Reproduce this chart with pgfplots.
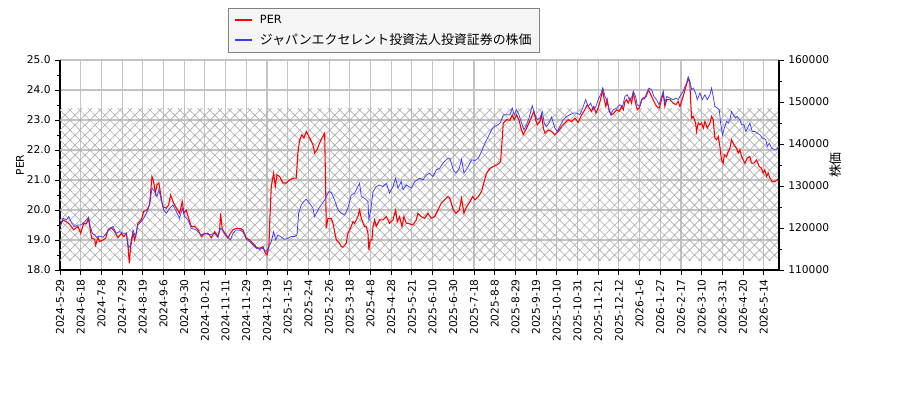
\documentclass[border=0pt]{standalone}
\usepackage{pgfplots}
\pgfplotsset{compat=1.18}
\usetikzlibrary{patterns.meta}
\usepackage{fontspec}
\setmainfont{DejaVu Sans}
\newfontfamily\cjk{Noto Sans CJK JP}

\definecolor{perred}{RGB}{255,0,0}
\definecolor{pxblue}{RGB}{60,60,255}
\definecolor{gridgray}{RGB}{195,195,195}

\pgfplotsset{
  common/.style={
    at={(45pt,97.5pt)}, anchor=south west,
    width=539.25pt, height=157.5pt, scale only axis,
    xmin=0, xmax=486.3,
    tick align=outside,
    major tick length=3.5pt, minor tick length=2pt,
    every tick/.style={black, line width=0.6pt},
    axis line style={line width=0.8pt},
    every tick label/.append style={font=\fontsize{8}{9.6}\selectfont},
  }
}

\begin{document}
\begin{tikzpicture}
\path[use as bounding box] (0,0) rectangle (675pt,300pt);

\begin{axis}[common,
  axis x line*=bottom, axis y line*=left,
  ymin=18, ymax=25,
  ytick={18,19,...,25}, minor y tick num=1,
  xtick={0,14,...,476},
  xticklabels={2024-5-29,2024-6-18,2024-7-8,2024-7-29,2024-8-19,2024-9-6,2024-9-30,2024-10-21,2024-11-11,2024-11-29,2024-12-19,2025-1-15,2025-2-4,2025-2-26,2025-3-18,2025-4-8,2025-4-28,2025-5-21,2025-6-10,2025-6-30,2025-7-18,2025-8-8,2025-8-29,2025-9-19,2025-10-10,2025-10-31,2025-11-21,2025-12-12,2026-1-6,2026-1-27,2026-2-17,2026-3-10,2026-3-31,2026-4-20,2026-5-14},
  xticklabel style={rotate=90, anchor=east},
  yticklabel style={/pgf/number format/.cd, fixed, fixed zerofill, precision=1, assume math mode=true},
  grid=major,
  major grid style={gridgray, line width=0.8pt},
  ylabel={PER},
  ylabel style={at={(axis description cs:-0.0556,0.5)}, anchor=center, font=\fontsize{8}{9.6}\selectfont},
]
% hatched band
\addplot[draw=none, pattern={Hatch[angle=45,distance=5.3pt,line width=0.5pt]}, pattern color=black!32]
  coordinates {(0,18.33) (486.3,18.33) (486.3,23.4) (0,23.4) (0,18.33)};

\addplot[perred, line width=0.8pt] coordinates {
(0,19.45) (2.0,19.67) (4.3,19.61) (5.9,19.55) (7.7,19.45) (9.2,19.34) (12.2,19.45)
(14.0,19.22) (16.0,19.56) (17.8,19.54) (19.2,19.72) (20.5,19.34) (21.4,19.06) (23.4,19.03)
(24.1,18.83) (25.7,19.09) (26.8,18.95) (29.1,19.00) (30.9,19.06) (32.5,19.34) (34.7,19.41)
(37.0,19.28) (39.2,19.08) (41.5,19.22) (43.1,19.11) (44.9,19.22) (46.0,18.78) (46.9,18.22)
(47.8,18.78) (49.4,19.22) (50.5,19.00) (51.6,19.22) (52.7,19.56) (55.0,19.67) (56.6,19.95)
(58.8,20.00) (60.6,20.17) (62.2,21.12) (63.3,20.95) (64.5,20.56) (65.6,20.84) (66.9,20.90)
(68.5,20.39) (69.6,20.11) (71.9,20.06) (73.5,20.17) (74.8,20.50) (76.4,20.28) (78.7,20.06)
(80.9,19.89) (82.7,20.28) (83.8,19.89) (85.4,20.00) (87.0,19.72) (88.8,19.45) (91.1,19.45)
(93.3,19.34) (95.6,19.11) (97.8,19.22) (100.1,19.22) (102.3,19.08) (104.6,19.28) (106.8,19.11)
(108.0,19.34) (108.6,19.89) (109.8,19.34) (111.3,19.22) (113.6,19.06) (115.2,19.22) (117.0,19.34)
(119.2,19.39) (121.5,19.39) (123.7,19.34) (126.0,19.06) (128.3,19.00) (130.5,18.89) (132.8,18.76)
(135.0,18.72) (137.3,18.78) (138.4,18.61) (140.0,18.50) (141.3,18.78) (142.0,19.78) (142.9,20.78)
(144.5,21.23) (145.6,20.78) (146.7,21.17) (148.5,21.12) (150.8,20.90) (153.0,20.90) (155.3,21.00)
(158.0,21.06) (159.8,21.06) (160.9,21.90) (162.1,22.34) (163.6,22.51) (165.0,22.40) (166.6,22.62)
(167.7,22.51) (169.5,22.34) (171.1,22.17) (172.2,21.90) (173.8,22.01) (175.6,22.23) (177.2,22.40)
(179.0,22.56) (179.6,21.00) (180.1,19.39) (181.2,19.72) (183.5,19.72) (184.6,19.56) (186.9,19.00)
(189.1,18.89) (190.2,18.78) (191.4,18.76) (193.6,18.89) (194.7,19.22) (197.0,19.45) (198.1,19.61)
(199.3,19.56) (201.5,19.78) (202.6,20.00) (203.8,19.72) (206.0,19.45) (207.1,19.45) (208.3,19.22)
(208.9,18.67) (209.8,19.00) (211.0,19.00) (211.7,19.45) (212.8,19.67) (213.9,19.45) (216.2,19.67)
(218.4,19.67) (220.7,19.78) (222.9,19.56) (225.2,19.67) (227.0,20.00) (228.1,19.61) (229.7,19.78)
(231.3,19.45) (232.6,19.78) (234.2,19.56) (236.4,19.54) (238.7,19.50) (241.0,19.67) (242.1,19.89)
(244.3,19.78) (246.6,19.72) (248.9,19.89) (251.1,19.72) (253.4,19.78) (255.6,20.00) (257.9,20.23)
(260.1,20.34) (262.4,20.45) (263.7,20.39) (266.0,20.00) (267.8,19.89) (270.1,20.00) (271.6,20.39)
(273.2,19.89) (275.0,20.11) (277.3,20.28) (279.1,20.45) (280.7,20.34) (282.9,20.45) (285.2,20.62)
(286.3,20.84) (288.5,21.23) (290.8,21.39) (293.0,21.45) (295.3,21.50) (297.1,21.56) (298.0,21.62)
(298.9,22.23) (299.8,22.90) (302.1,23.01) (304.3,22.99) (305.9,23.17) (307.2,23.01) (308.8,23.17)
(310.4,23.01) (311.8,22.73) (313.3,22.51) (315.6,22.73) (317.2,22.90) (319.0,23.12) (320.5,23.29)
(321.7,23.01) (322.8,22.84) (324.6,22.95) (325.7,23.17) (326.9,22.73) (328.0,22.56) (330.2,22.67)
(332.5,22.62) (334.7,22.51) (337.0,22.62) (339.3,22.79) (341.5,22.90) (343.8,23.01) (346.0,22.95)
(348.3,23.06) (350.5,22.92) (352.8,23.17) (355.0,23.34) (356.6,23.51) (358.0,23.40) (359.5,23.29)
(361.1,23.45) (362.5,23.23) (364.0,23.40) (365.6,23.68) (367.0,24.01) (368.1,23.68) (369.2,23.45)
(370.1,23.68) (371.5,23.29) (373.1,23.17) (374.6,23.23) (376.4,23.34) (378.2,23.29) (379.8,23.45)
(381.0,23.34) (382.1,23.62) (383.2,23.68) (384.3,23.56) (385.5,23.73) (386.6,23.56) (387.7,23.90)
(388.8,23.68) (390.4,23.34) (391.8,23.40) (393.4,23.68) (395.6,23.73) (397.9,24.01) (400.1,23.79)
(401.7,23.62) (403.5,23.45) (405.3,23.40) (406.9,23.68) (408.0,23.90) (409.1,23.45) (410.3,23.68)
(412.5,23.68) (414.8,23.56) (416.6,23.51) (418.1,23.62) (419.3,23.45) (421.5,23.79) (422.7,24.01)
(423.8,24.18) (424.9,24.40) (426.0,24.23) (426.5,23.68) (427.2,23.06) (428.3,23.12) (429.9,22.90)
(430.5,22.62) (431.7,22.90) (432.8,22.84) (433.9,22.90) (435.1,22.73) (436.2,22.95) (437.8,22.73)
(439.6,22.90) (440.7,23.12) (441.8,23.01) (442.9,22.40) (444.1,22.34) (445.2,22.45) (446.3,22.12)
(447.4,21.67) (448.6,21.56) (449.3,21.84) (450.8,21.78) (452.0,21.95) (453.1,22.06) (454.2,22.34)
(455.3,22.23) (456.5,22.12) (457.6,22.06) (458.7,21.90) (459.8,22.01) (461.0,21.78) (463.2,21.56)
(464.8,21.73) (466.6,21.78) (467.7,21.56) (469.3,21.56) (471.1,21.67) (472.9,21.45) (474.5,21.39)
(475.6,21.23) (476.7,21.34) (477.9,21.12) (479.0,21.23) (480.1,21.06) (481.7,20.95) (483.5,20.95)
(485.1,21.00) (486.3,21.06)
};
\end{axis}

\begin{axis}[common,
  axis y line*=right, axis x line=none,
  ymin=110000, ymax=160000,
  ytick={110000,120000,...,160000}, minor y tick num=1,
  scaled y ticks=false,
  yticklabel style={/pgf/number format/.cd, fixed, precision=0, 1000 sep={}, assume math mode=true},
  ylabel={{\cjk 株価}},
  ylabel style={at={(axis description cs:1.078,0.5)}, anchor=center, rotate=0, font=\fontsize{9.7}{11}\selectfont},
  legend cell align=left,
  legend image code/.code={\draw[#1, line width=1.5pt] (0pt,0pt) -- (12.75pt,0pt); \path (16.5pt,0pt);},
  legend style={at={(axis description cs:0.2337,1.2476)}, anchor=north west,
    fill=black!4, draw=black!50, line width=0.7pt,
    font=\fontsize{8.5}{10}\selectfont, row sep=2pt,
    inner xsep=4pt, inner ysep=3pt},
]
\addlegendimage{perred}
\addlegendentry{PER}
\addplot[pxblue, line width=0.55pt] coordinates {
(0,120330) (2.0,122320) (4.3,121920) (5.9,122720) (7.7,121290) (9.9,120330) (12.2,120730)
(14.4,120730) (16.7,121520) (19.4,122560) (20.5,120330) (21.9,118740) (23.4,118340) (24.6,117790)
(26.8,118100) (29.1,117790) (31.3,118740) (33.6,119930) (35.8,120330) (38.1,118740) (40.3,119140)
(42.6,118740) (44.9,118740) (46.4,115160) (47.6,115960) (49.4,119540) (50.9,117950) (52.7,120730)
(55.0,121520) (57.3,122720) (59.5,124300) (61.1,126690) (62.2,129470) (64.0,128680) (65.6,127480)
(66.9,129070) (68.5,126690) (70.1,124300) (71.9,123510) (74.2,124700) (76.4,125500) (78.7,123910)
(80.9,122320) (82.7,124700) (84.3,122720) (86.6,121920) (88.8,119930) (92.2,119540) (95.6,118340)
(97.8,118740) (101.2,118340) (104.6,118740) (106.8,117790) (108.4,119930) (110.2,119540) (112.5,118340)
(115.2,117150) (117.0,118740) (119.2,119540) (121.5,119540) (123.7,119140) (126.0,117310) (128.3,116750)
(130.5,115960) (132.8,115160) (135.0,114920) (137.3,115160) (139.5,114370) (141.8,115960) (142.9,116750)
(144.5,119140) (145.8,117150) (147.4,118340) (149.7,117790) (151.9,117310) (154.2,117550) (156.4,117950)
(158.7,117950) (160.3,118340) (161.4,123510) (163.2,125500) (164.8,126290) (166.6,126850) (168.8,125900)
(171.1,124700) (172.2,122720) (174.5,124300) (176.7,125500) (179.0,126690) (180.1,127480) (181.9,128680)
(183.5,128440) (185.7,126690) (188.0,124300) (190.2,123510) (192.5,123110) (194.7,124700) (197.0,127880)
(199.3,128280) (201.5,129870) (202.6,130660) (203.8,127480) (206.0,127090) (208.3,126290) (208.9,121920)
(210.5,125100) (211.7,128680) (213.9,129870) (216.2,130260) (218.4,129870) (220.7,130660) (222.9,128280)
(225.2,129870) (227.0,131850) (228.6,129470) (230.8,131060) (232.0,129070) (234.2,130260) (237.6,129470)
(239.9,131060) (243.3,131850) (245.5,131460) (247.8,132650) (250.0,133050) (252.3,132250) (254.5,133840)
(256.8,134240) (259.0,135440) (262.4,136630) (263.7,136630) (266.0,133840) (267.8,133050) (270.1,134240)
(271.6,136390) (273.2,133050) (276.1,134640) (278.4,136230) (280.7,136070) (282.9,136630) (285.2,138220)
(287.4,140200) (289.7,141790) (291.9,143380) (294.2,144180) (296.4,144580) (297.6,144970) (298.7,145770)
(299.8,146960) (302.1,146960) (304.3,146960) (305.9,148550) (307.2,146960) (308.8,148150) (310.4,146960)
(312.2,144970) (313.8,143380) (315.6,144580) (317.2,146170) (319.4,149110) (321.2,146960) (322.8,145770)
(324.6,146170) (326.2,147760) (327.5,144970) (329.1,144180) (330.7,144970) (332.5,146410) (334.7,143780)
(336.3,142990) (338.6,144580) (340.4,145770) (342.6,146560) (344.9,146960) (347.1,147360) (349.4,147360)
(351.7,146960) (353.9,148950) (355.5,150540) (357.3,148950) (358.9,149740) (360.7,148150) (362.5,148950)
(364.0,150540) (365.6,151730) (367.2,153320) (368.6,151330) (369.7,150540) (370.8,148950) (372.4,146960)
(374.2,148150) (376.4,148550) (378.7,149340) (380.5,148950) (382.1,151330) (383.7,151730) (385.0,150540)
(386.6,150940) (387.7,152530) (389.3,151330) (390.4,149340) (392.2,148950) (394.0,150940) (396.7,151330)
(398.3,153320) (400.1,152930) (401.7,151330) (403.5,150540) (405.1,149340) (406.9,151330) (408.0,152530)
(409.1,149740) (410.3,151330) (412.5,150940) (414.8,150540) (416.6,150940) (418.1,150540) (419.3,151330)
(421.5,152530) (422.7,153720) (423.8,154520) (424.9,155950) (426.0,154910) (427.2,152930) (428.3,153320)
(429.9,152130) (431.0,150540) (432.8,152130) (434.4,150540) (436.2,151730) (437.8,150540) (439.6,151730)
(440.7,153320) (441.8,151330) (442.9,148950) (444.7,148550) (445.9,148150) (446.8,144970) (448.1,142190)
(449.3,143780) (450.8,145370) (452.0,144970) (453.1,145770) (454.2,147760) (455.3,146960) (456.9,146170)
(458.0,146560) (459.8,145770) (461.0,144580) (462.5,144580) (463.9,142990) (465.0,143780) (466.6,144970)
(468.2,142990) (470.0,142990) (471.6,142590) (473.4,142190) (475.0,141390) (476.1,141390) (477.4,141000)
(478.3,139410) (479.7,140200) (481.3,139010) (482.8,138770) (484.6,138770) (486.3,139410)
};
\addlegendentry{{\cjk\fontsize{9.7}{11}\selectfont ジャパンエクセレント投資法人投資証券の株価}}
\end{axis}
\end{tikzpicture}
\end{document}
